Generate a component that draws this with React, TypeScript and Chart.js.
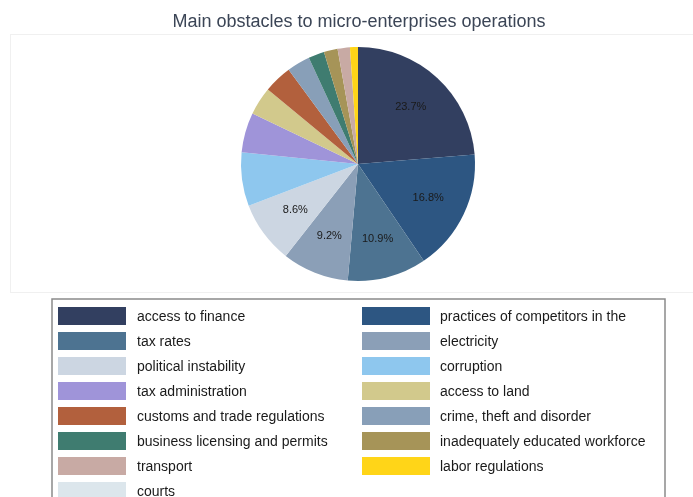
import React, { useEffect, useRef } from "react";
import { Chart, registerables } from "chart.js";

Chart.register(...registerables);

const TITLE = "Main obstacles to micro-enterprises operations";

const categories = [
  "access to finance",
  "practices of competitors in the",
  "tax rates",
  "electricity",
  "political instability",
  "corruption",
  "tax administration",
  "access to land",
  "customs and trade regulations",
  "crime, theft and disorder",
  "business licensing and permits",
  "inadequately educated workforce",
  "transport",
  "labor regulations",
  "courts",
];

const shares = [23.7, 16.8, 10.9, 9.2, 8.6, 7.4, 5.5, 3.9, 3.9, 3.2, 2.2, 1.9, 1.7, 1.1, 0];

const colors = [
  "#323f60",
  "#2d5682",
  "#4d7391",
  "#8b9fb7",
  "#ccd6e2",
  "#8ec7ee",
  "#9f94d9",
  "#d2c98c",
  "#b2603d",
  "#889fb8",
  "#3f7c70",
  "#a69458",
  "#c8aaa4",
  "#ffd518",
  "#dce6ec",
];

const LABEL_MIN = 8;
const FONT = "'Liberation Sans', Arial, sans-serif";

const decorPlugin = {
  id: "decor",
  beforeDraw(chart: any) {
    const ctx = chart.ctx;
    ctx.save();
    ctx.fillStyle = "#ffffff";
    ctx.fillRect(0, 0, chart.width, chart.height);
    ctx.strokeStyle = "#f0f0f0";
    ctx.lineWidth = 1;
    ctx.strokeRect(10.5, 34.5, 690, 258);
    ctx.fillStyle = "#3b4556";
    ctx.font = `18px ${FONT}`;
    ctx.textAlign = "center";
    ctx.textBaseline = "middle";
    ctx.fillText(TITLE, 359, 22);
    ctx.restore();
  },
  afterDraw(chart: any) {
    const ctx = chart.ctx;
    const meta = chart.getDatasetMeta(0);
    const data = chart.data.datasets[0].data as number[];
    const total = data.reduce((a, b) => a + b, 0);
    ctx.save();
    ctx.font = `11px ${FONT}`;
    ctx.fillStyle = "#1a1a1a";
    ctx.textAlign = "center";
    ctx.textBaseline = "middle";
    meta.data.forEach((arc: any, i: number) => {
      const pct = (data[i] / total) * 100;
      if (pct < LABEL_MIN) return;
      const p = arc.getProps(["x", "y", "startAngle", "endAngle", "outerRadius"], true);
      const mid = (p.startAngle + p.endAngle) / 2;
      const r = p.outerRadius * 0.665;
      ctx.fillText(pct.toFixed(1) + "%", p.x + Math.cos(mid) * r, p.y + Math.sin(mid) * r);
    });

    // legend box
    ctx.strokeStyle = "#8a8a8a";
    ctx.lineWidth = 1.5;
    ctx.strokeRect(52, 299, 613, 220);
    ctx.font = `14px ${FONT}`;
    ctx.textAlign = "left";
    ctx.textBaseline = "middle";
    const labels = chart.data.labels as string[];
    const bg = chart.data.datasets[0].backgroundColor as string[];
    labels.forEach((lab, i) => {
      const col = i % 2;
      const row = Math.floor(i / 2);
      const sx = col === 0 ? 58 : 362;
      const tx = col === 0 ? 137 : 440;
      const cy = 316 + row * 25;
      ctx.fillStyle = bg[i];
      ctx.fillRect(sx, cy - 9, 68, 18);
      ctx.fillStyle = "#1a1a1a";
      ctx.fillText(lab, tx, cy + 1);
    });
    ctx.restore();
  },
};

export default function App() {
  const ref = useRef<HTMLCanvasElement>(null);
  useEffect(() => {
    if (!ref.current) return;
    const chart = new Chart(ref.current, {
      type: "pie",
      data: {
        labels: categories,
        datasets: [
          {
            data: shares,
            backgroundColor: colors,
            borderWidth: 0,
          },
        ],
      },
      options: {
        responsive: false,
        animation: false,
        layout: { padding: { top: 47, bottom: 216, left: 241, right: 218 } },
        plugins: {
          legend: { display: false },
          title: { display: false },
          tooltip: { enabled: false },
        },
      },
      plugins: [decorPlugin],
    });
    return () => chart.destroy();
  }, []);
  return (
    <div style={{ position: "fixed", left: 0, top: 0, width: 693, height: 497, background: "#fff" }}>
      <canvas ref={ref} width={693} height={497} style={{ display: "block" }} />
    </div>
  );
}
